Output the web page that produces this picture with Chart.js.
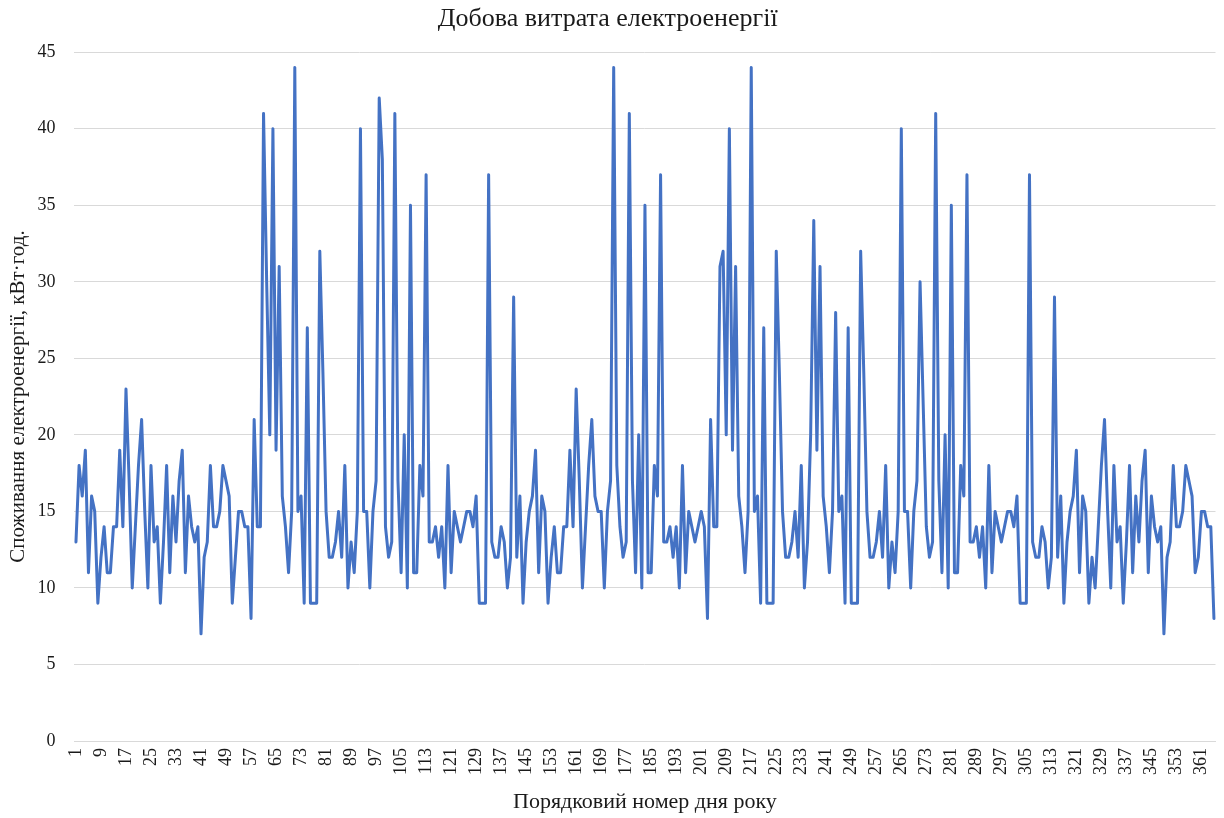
<!DOCTYPE html>
<html lang="uk">
<head>
<meta charset="utf-8">
<title>Добова витрата електроенергії</title>
<script src="https://cdn.jsdelivr.net/npm/chart.js@4.4.1/dist/chart.umd.min.js"></script>
<style>
  html, body { margin: 0; padding: 0; background: #ffffff; }
  #wrap { width: 1224px; height: 818px; }
</style>
</head>
<body>
<div id="wrap"><canvas id="chart" width="1224" height="818"></canvas></div>
<script>
// Daily electricity consumption, kWh, days 1..365 (ten values per row)
const consumption = [
  13, 18, 16, 19, 11, 16, 15,  9, 12, 14,
  11, 11, 14, 14, 19, 14, 23, 17, 10, 14,
  18, 21, 15, 10, 18, 13, 14,  9, 13, 18,
  11, 16, 13, 17, 19, 11, 16, 14, 13, 14,
   7, 12, 13, 18, 14, 14, 15, 18, 17, 16,
   9, 12, 15, 15, 14, 14,  8, 21, 14, 14,
  41, 30, 20, 40, 19, 31, 16, 14, 11, 15,
  44, 15, 16,  9, 27,  9,  9,  9, 32, 24,
  15, 12, 12, 13, 15, 12, 18, 10, 13, 11,
  15, 40, 15, 15, 10, 15, 17, 42, 38, 14,
  12, 13, 41, 17, 11, 20, 10, 35, 11, 11,
  18, 16, 37, 13, 13, 14, 12, 14, 10, 18,
  11, 15, 14, 13, 14, 15, 15, 14, 16,  9,
   9,  9, 37, 13, 12, 12, 14, 13, 10, 12,
  29, 12, 16,  9, 13, 15, 16, 19, 11, 16,
  15,  9, 12, 14, 11, 11, 14, 14, 19, 14,
  23, 17, 10, 14, 18, 21, 16, 15, 15, 10,
  15, 17, 44, 18, 14, 12, 13, 41, 17, 11,
  20, 10, 35, 11, 11, 18, 16, 37, 13, 13,
  14, 12, 14, 10, 18, 11, 15, 14, 13, 14,
  15, 14,  8, 21, 14, 14, 31, 32, 20, 40,
  19, 31, 16, 14, 11, 15, 44, 15, 16,  9,
  27,  9,  9,  9, 32, 24, 15, 12, 12, 13,
  15, 12, 18, 10, 13, 20, 34, 19, 31, 16,
  14, 11, 15, 28, 15, 16,  9, 27,  9,  9,
   9, 32, 24, 15, 12, 12, 13, 15, 12, 18,
  10, 13, 11, 15, 40, 15, 15, 10, 15, 17,
  30, 22, 14, 12, 13, 41, 17, 11, 20, 10,
  35, 11, 11, 18, 16, 37, 13, 13, 14, 12,
  14, 10, 18, 11, 15, 14, 13, 14, 15, 15,
  14, 16,  9,  9,  9, 37, 13, 12, 12, 14,
  13, 10, 12, 29, 12, 16,  9, 13, 15, 16,
  19, 11, 16, 15,  9, 12, 10, 14, 18, 21,
  15, 10, 18, 13, 14,  9, 13, 18, 11, 16,
  13, 17, 19, 11, 16, 14, 13, 14,  7, 12,
  13, 18, 14, 14, 15, 18, 17, 16, 11, 12,
  15, 15, 14, 14,  8
];

// Day numbers of the year (category axis)
const days = consumption.map((_, i) => String(i + 1));

// Day numbers printed under the axis
const dayTickLabels = [
  '1', '9', '17', '25', '33', '41', '49', '57', '65', '73', '81', '89', '97',
  '105', '113', '121', '129', '137', '145', '153', '161', '169', '177', '185',
  '193', '201', '209', '217', '225', '233', '241', '249', '257', '265', '273',
  '281', '289', '297', '305', '313', '321', '329', '337', '345', '353', '361'
];

const chartTitle = 'Добова витрата електроенергії';
const yAxisTitle = 'Споживання електроенергії, кВт·год.';
const xAxisTitle = 'Порядковий номер дня року';

const serif = "'Liberation Serif', 'Times New Roman', serif";
const textColor = '#1a1a1a';
const gridColor = '#d9d9d9';

new Chart(document.getElementById('chart'), {
  type: 'line',
  data: {
    labels: days,
    datasets: [{
      label: yAxisTitle,
      data: consumption,
      borderColor: '#4472C4',
      backgroundColor: '#4472C4',
      borderWidth: 3,
      pointRadius: 0,
      pointHoverRadius: 0,
      tension: 0,
      fill: false,
      borderJoinStyle: 'round',
      borderCapStyle: 'round'
    }]
  },
  options: {
    responsive: false,
    animation: false,
    devicePixelRatio: 1,
    layout: { padding: { left: 0, right: 8.5, top: 0, bottom: 0 } },
    plugins: {
      legend: { display: false },
      tooltip: { enabled: false },
      title: {
        display: true,
        text: chartTitle,
        color: textColor,
        font: { family: serif, size: 26, weight: 'normal' },
        padding: { top: 4, bottom: 17 }
      }
    },
    scales: {
      x: {
        type: 'category',
        offset: true,
        grid: { display: false, drawTicks: false },
        border: { display: true, color: gridColor, width: 1 },
        ticks: {
          autoSkip: false,
          minRotation: 90,
          maxRotation: 90,
          padding: 7,
          color: textColor,
          font: { family: serif, size: 18 },
          callback: function (value) {
            const lbl = this.getLabelForValue(value);
            return dayTickLabels.includes(lbl) ? lbl : null;
          }
        },
        title: {
          display: true,
          text: xAxisTitle,
          color: textColor,
          font: { family: serif, size: 22, weight: 'normal' },
          padding: { top: 0, bottom: 3 }
        },
        afterFit: function (scale) {
          scale.height = 77;
          scale.paddingLeft = 0;
          scale.paddingRight = 0;
        }
      },
      y: {
        min: 0,
        max: 45,
        grid: { color: gridColor, lineWidth: 1, drawTicks: false },
        border: { display: false },
        ticks: {
          stepSize: 5,
          padding: 19,
          color: textColor,
          font: { family: serif, size: 18 }
        },
        title: {
          display: true,
          text: yAxisTitle,
          color: textColor,
          font: { family: serif, size: 21, weight: 'normal' },
          padding: { top: 6, bottom: 0 }
        },
        afterFit: function (scale) { scale.width = 74.4; }
      }
    }
  }
});
</script>
</body>
</html>
